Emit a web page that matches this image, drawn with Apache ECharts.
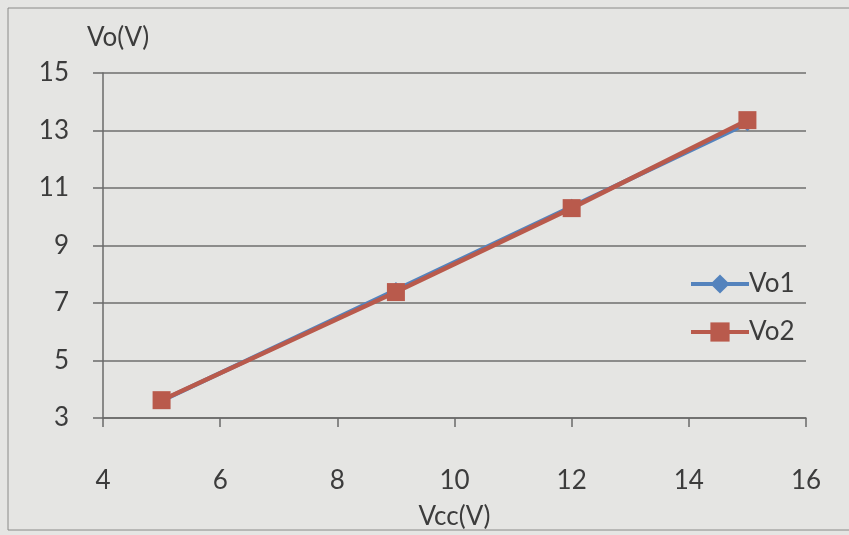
<!DOCTYPE html>
<html><head><meta charset="utf-8">
<script src="https://cdn.jsdelivr.net/npm/echarts@6/dist/echarts.min.js"></script>
<style>html,body{margin:0;padding:0;background:#e5e5e3}#c{width:849px;height:535px}</style>
</head><body><div id="c"></div>
<script>
const vcc = [5, 9, 12, 15];
const vo1 = [3.6, 7.45, 10.35, 13.25];
const vo2 = [3.62, 7.38, 10.3, 13.36];
const yTicks = [3, 5, 7, 9, 11, 13, 15];
const xTicks = [4, 6, 8, 10, 12, 14, 16];
const fontFam = 'Lato, "Open Sans", sans-serif';
const txt = '#3c3c3c';
const chart = echarts.init(document.getElementById('c'));
chart.setOption({
  backgroundColor: '#e5e5e3',
  animation: false,
  grid: {left: 103, right: 43, top: 73, bottom: 114},
  graphic: [{type: 'rect', shape: {x: 8, y: 8, width: 860, height: 522}, style: {fill: 'none', stroke: '#8a8a88', lineWidth: 1}}],
  legend: {
    orient: 'vertical', left: 684, top: 266, itemGap: 22, itemWidth: 58, itemHeight: 24,
    lineStyle: {width: 4},
    textStyle: {fontFamily: fontFam, fontSize: 26, color: txt, padding: [0, 0, 0, -5]},
    data: ['Vo1', 'Vo2']
  },
  xAxis: {
    type: 'value', min: 4, max: 16, interval: 2,
    name: 'Vcc(V)', nameLocation: 'middle', nameGap: 86,
    nameTextStyle: {fontFamily: fontFam, fontSize: 26, color: txt},
    axisLine: {show: true, lineStyle: {color: '#6a6a6a', width: 1.5}},
    axisTick: {show: true, inside: false, length: 9, lineStyle: {color: '#6a6a6a', width: 1.5}},
    axisLabel: {margin: 50, fontFamily: fontFam, fontSize: 26, color: txt, customValues: xTicks},
    splitLine: {show: false}
  },
  yAxis: {
    type: 'value', min: 3, max: 15,
    name: 'Vo(V)', nameLocation: 'end', nameGap: 22,
    nameTextStyle: {fontFamily: fontFam, fontSize: 26, color: txt, align: 'center', padding: [0, 0, 0, 30]},
    axisLine: {show: true, lineStyle: {color: '#6a6a6a', width: 1.5}},
    axisTick: {show: true, inside: false, length: 10, lineStyle: {color: '#6a6a6a', width: 1.5}, customValues: yTicks},
    axisLabel: {margin: 34, fontFamily: fontFam, fontSize: 26, color: txt, customValues: yTicks},
    splitLine: {show: true, lineStyle: {color: '#6e6e6e', width: 1.5}}
  },
  series: [
    {name: 'Vo1', type: 'line', data: vcc.map((x, i) => [x, vo1[i]]),
     symbol: 'diamond', symbolSize: 16, color: '#5483bd',
     lineStyle: {width: 4.5, color: '#5483bd'}, itemStyle: {color: '#5483bd'}, z: 2},
    {name: 'Vo2', type: 'line', data: vcc.map((x, i) => [x, vo2[i]]),
     symbol: 'rect', symbolSize: 18, color: '#b95a4c',
     lineStyle: {width: 4.5, color: '#b95a4c'}, itemStyle: {color: '#b95a4c'}, z: 3}
  ]
});
</script></body></html>
